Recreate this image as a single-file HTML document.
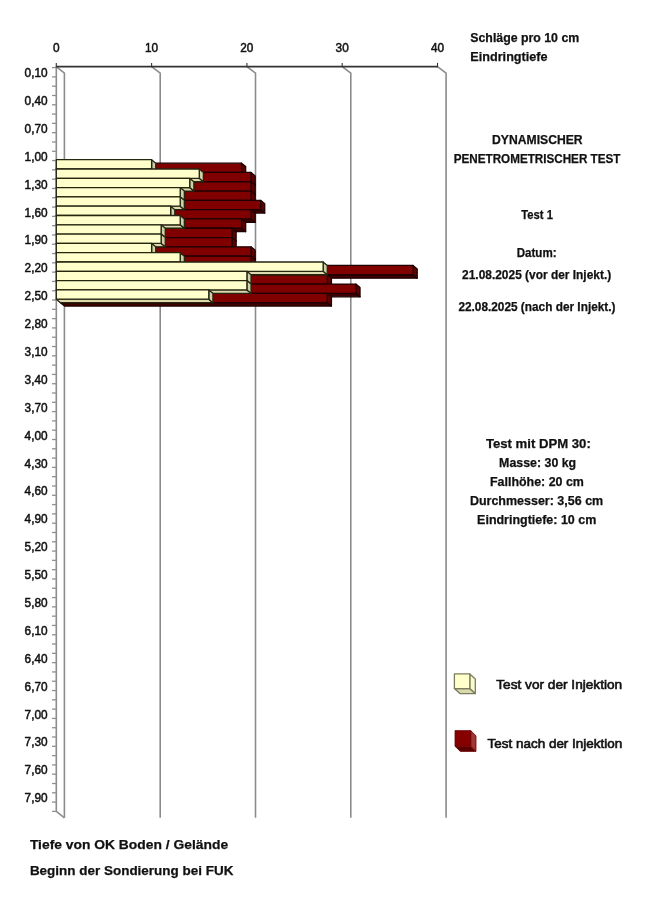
<!DOCTYPE html>
<html><head><meta charset="utf-8"><title>Dynamischer Penetrometrischer Test</title>
<style>
html,body{margin:0;padding:0;background:#fff;}
body{width:652px;height:902px;overflow:hidden;font-family:"Liberation Sans",sans-serif;}
svg{display:block;font-family:"Liberation Sans",sans-serif;filter:blur(0.4px);}
</style></head><body>
<svg width="652" height="902" viewBox="0 0 652 902">
<rect width="652" height="902" fill="#fff"/>
<polyline points="56.30,66.70 64.40,73.10 64.40,817.80" fill="none" stroke="#8c8c8c" stroke-width="1.6"/>
<polyline points="151.60,66.70 160.20,73.10 160.20,817.80" fill="none" stroke="#8c8c8c" stroke-width="1.6"/>
<polyline points="246.90,66.70 255.50,73.10 255.50,817.80" fill="none" stroke="#8c8c8c" stroke-width="1.6"/>
<polyline points="342.20,66.70 350.80,73.10 350.80,817.80" fill="none" stroke="#8c8c8c" stroke-width="1.6"/>
<polyline points="437.50,66.70 446.10,73.10 446.10,817.80" fill="none" stroke="#8c8c8c" stroke-width="1.6"/>
<polyline points="56.30,66.70 56.30,811.40 64.40,817.80" fill="none" stroke="#8c8c8c" stroke-width="1.6"/>
<line x1="52.00" y1="67.60" x2="56.30" y2="67.60" stroke="#909090" stroke-width="1.3"/>
<line x1="52.00" y1="76.90" x2="56.30" y2="76.90" stroke="#909090" stroke-width="1.3"/>
<line x1="52.00" y1="86.19" x2="56.30" y2="86.19" stroke="#909090" stroke-width="1.3"/>
<line x1="52.00" y1="95.49" x2="56.30" y2="95.49" stroke="#909090" stroke-width="1.3"/>
<line x1="52.00" y1="104.79" x2="56.30" y2="104.79" stroke="#909090" stroke-width="1.3"/>
<line x1="52.00" y1="114.09" x2="56.30" y2="114.09" stroke="#909090" stroke-width="1.3"/>
<line x1="52.00" y1="123.38" x2="56.30" y2="123.38" stroke="#909090" stroke-width="1.3"/>
<line x1="52.00" y1="132.68" x2="56.30" y2="132.68" stroke="#909090" stroke-width="1.3"/>
<line x1="52.00" y1="141.98" x2="56.30" y2="141.98" stroke="#909090" stroke-width="1.3"/>
<line x1="52.00" y1="151.28" x2="56.30" y2="151.28" stroke="#909090" stroke-width="1.3"/>
<line x1="52.00" y1="160.57" x2="56.30" y2="160.57" stroke="#909090" stroke-width="1.3"/>
<line x1="52.00" y1="169.87" x2="56.30" y2="169.87" stroke="#909090" stroke-width="1.3"/>
<line x1="52.00" y1="179.17" x2="56.30" y2="179.17" stroke="#909090" stroke-width="1.3"/>
<line x1="52.00" y1="188.47" x2="56.30" y2="188.47" stroke="#909090" stroke-width="1.3"/>
<line x1="52.00" y1="197.76" x2="56.30" y2="197.76" stroke="#909090" stroke-width="1.3"/>
<line x1="52.00" y1="207.06" x2="56.30" y2="207.06" stroke="#909090" stroke-width="1.3"/>
<line x1="52.00" y1="216.36" x2="56.30" y2="216.36" stroke="#909090" stroke-width="1.3"/>
<line x1="52.00" y1="225.66" x2="56.30" y2="225.66" stroke="#909090" stroke-width="1.3"/>
<line x1="52.00" y1="234.95" x2="56.30" y2="234.95" stroke="#909090" stroke-width="1.3"/>
<line x1="52.00" y1="244.25" x2="56.30" y2="244.25" stroke="#909090" stroke-width="1.3"/>
<line x1="52.00" y1="253.55" x2="56.30" y2="253.55" stroke="#909090" stroke-width="1.3"/>
<line x1="52.00" y1="262.85" x2="56.30" y2="262.85" stroke="#909090" stroke-width="1.3"/>
<line x1="52.00" y1="272.14" x2="56.30" y2="272.14" stroke="#909090" stroke-width="1.3"/>
<line x1="52.00" y1="281.44" x2="56.30" y2="281.44" stroke="#909090" stroke-width="1.3"/>
<line x1="52.00" y1="290.74" x2="56.30" y2="290.74" stroke="#909090" stroke-width="1.3"/>
<line x1="52.00" y1="300.04" x2="56.30" y2="300.04" stroke="#909090" stroke-width="1.3"/>
<line x1="52.00" y1="309.33" x2="56.30" y2="309.33" stroke="#909090" stroke-width="1.3"/>
<line x1="52.00" y1="318.63" x2="56.30" y2="318.63" stroke="#909090" stroke-width="1.3"/>
<line x1="52.00" y1="327.93" x2="56.30" y2="327.93" stroke="#909090" stroke-width="1.3"/>
<line x1="52.00" y1="337.23" x2="56.30" y2="337.23" stroke="#909090" stroke-width="1.3"/>
<line x1="52.00" y1="346.52" x2="56.30" y2="346.52" stroke="#909090" stroke-width="1.3"/>
<line x1="52.00" y1="355.82" x2="56.30" y2="355.82" stroke="#909090" stroke-width="1.3"/>
<line x1="52.00" y1="365.12" x2="56.30" y2="365.12" stroke="#909090" stroke-width="1.3"/>
<line x1="52.00" y1="374.42" x2="56.30" y2="374.42" stroke="#909090" stroke-width="1.3"/>
<line x1="52.00" y1="383.72" x2="56.30" y2="383.72" stroke="#909090" stroke-width="1.3"/>
<line x1="52.00" y1="393.01" x2="56.30" y2="393.01" stroke="#909090" stroke-width="1.3"/>
<line x1="52.00" y1="402.31" x2="56.30" y2="402.31" stroke="#909090" stroke-width="1.3"/>
<line x1="52.00" y1="411.61" x2="56.30" y2="411.61" stroke="#909090" stroke-width="1.3"/>
<line x1="52.00" y1="420.90" x2="56.30" y2="420.90" stroke="#909090" stroke-width="1.3"/>
<line x1="52.00" y1="430.20" x2="56.30" y2="430.20" stroke="#909090" stroke-width="1.3"/>
<line x1="52.00" y1="439.50" x2="56.30" y2="439.50" stroke="#909090" stroke-width="1.3"/>
<line x1="52.00" y1="448.80" x2="56.30" y2="448.80" stroke="#909090" stroke-width="1.3"/>
<line x1="52.00" y1="458.10" x2="56.30" y2="458.10" stroke="#909090" stroke-width="1.3"/>
<line x1="52.00" y1="467.39" x2="56.30" y2="467.39" stroke="#909090" stroke-width="1.3"/>
<line x1="52.00" y1="476.69" x2="56.30" y2="476.69" stroke="#909090" stroke-width="1.3"/>
<line x1="52.00" y1="485.99" x2="56.30" y2="485.99" stroke="#909090" stroke-width="1.3"/>
<line x1="52.00" y1="495.28" x2="56.30" y2="495.28" stroke="#909090" stroke-width="1.3"/>
<line x1="52.00" y1="504.58" x2="56.30" y2="504.58" stroke="#909090" stroke-width="1.3"/>
<line x1="52.00" y1="513.88" x2="56.30" y2="513.88" stroke="#909090" stroke-width="1.3"/>
<line x1="52.00" y1="523.18" x2="56.30" y2="523.18" stroke="#909090" stroke-width="1.3"/>
<line x1="52.00" y1="532.48" x2="56.30" y2="532.48" stroke="#909090" stroke-width="1.3"/>
<line x1="52.00" y1="541.77" x2="56.30" y2="541.77" stroke="#909090" stroke-width="1.3"/>
<line x1="52.00" y1="551.07" x2="56.30" y2="551.07" stroke="#909090" stroke-width="1.3"/>
<line x1="52.00" y1="560.37" x2="56.30" y2="560.37" stroke="#909090" stroke-width="1.3"/>
<line x1="52.00" y1="569.66" x2="56.30" y2="569.66" stroke="#909090" stroke-width="1.3"/>
<line x1="52.00" y1="578.96" x2="56.30" y2="578.96" stroke="#909090" stroke-width="1.3"/>
<line x1="52.00" y1="588.26" x2="56.30" y2="588.26" stroke="#909090" stroke-width="1.3"/>
<line x1="52.00" y1="597.56" x2="56.30" y2="597.56" stroke="#909090" stroke-width="1.3"/>
<line x1="52.00" y1="606.86" x2="56.30" y2="606.86" stroke="#909090" stroke-width="1.3"/>
<line x1="52.00" y1="616.15" x2="56.30" y2="616.15" stroke="#909090" stroke-width="1.3"/>
<line x1="52.00" y1="625.45" x2="56.30" y2="625.45" stroke="#909090" stroke-width="1.3"/>
<line x1="52.00" y1="634.75" x2="56.30" y2="634.75" stroke="#909090" stroke-width="1.3"/>
<line x1="52.00" y1="644.04" x2="56.30" y2="644.04" stroke="#909090" stroke-width="1.3"/>
<line x1="52.00" y1="653.34" x2="56.30" y2="653.34" stroke="#909090" stroke-width="1.3"/>
<line x1="52.00" y1="662.64" x2="56.30" y2="662.64" stroke="#909090" stroke-width="1.3"/>
<line x1="52.00" y1="671.94" x2="56.30" y2="671.94" stroke="#909090" stroke-width="1.3"/>
<line x1="52.00" y1="681.24" x2="56.30" y2="681.24" stroke="#909090" stroke-width="1.3"/>
<line x1="52.00" y1="690.53" x2="56.30" y2="690.53" stroke="#909090" stroke-width="1.3"/>
<line x1="52.00" y1="699.83" x2="56.30" y2="699.83" stroke="#909090" stroke-width="1.3"/>
<line x1="52.00" y1="709.13" x2="56.30" y2="709.13" stroke="#909090" stroke-width="1.3"/>
<line x1="52.00" y1="718.42" x2="56.30" y2="718.42" stroke="#909090" stroke-width="1.3"/>
<line x1="52.00" y1="727.72" x2="56.30" y2="727.72" stroke="#909090" stroke-width="1.3"/>
<line x1="52.00" y1="737.02" x2="56.30" y2="737.02" stroke="#909090" stroke-width="1.3"/>
<line x1="52.00" y1="746.32" x2="56.30" y2="746.32" stroke="#909090" stroke-width="1.3"/>
<line x1="52.00" y1="755.62" x2="56.30" y2="755.62" stroke="#909090" stroke-width="1.3"/>
<line x1="52.00" y1="764.91" x2="56.30" y2="764.91" stroke="#909090" stroke-width="1.3"/>
<line x1="52.00" y1="774.21" x2="56.30" y2="774.21" stroke="#909090" stroke-width="1.3"/>
<line x1="52.00" y1="783.51" x2="56.30" y2="783.51" stroke="#909090" stroke-width="1.3"/>
<line x1="52.00" y1="792.80" x2="56.30" y2="792.80" stroke="#909090" stroke-width="1.3"/>
<line x1="52.00" y1="802.10" x2="56.30" y2="802.10" stroke="#909090" stroke-width="1.3"/>
<line x1="52.00" y1="811.40" x2="56.30" y2="811.40" stroke="#909090" stroke-width="1.3"/>
<polygon points="60.45,172.45 241.52,172.45 245.67,175.90 64.60,175.90" fill="#3e0000" stroke="#1e0000" stroke-width="1.3" stroke-linejoin="round"/>
<polygon points="241.52,163.15 245.67,166.60 245.67,175.90 241.52,172.45" fill="#5e0000" stroke="#1e0000" stroke-width="1.3" stroke-linejoin="round"/>
<polygon points="60.45,163.15 241.52,163.15 241.52,172.45 60.45,172.45" fill="#800000" stroke="#1e0000" stroke-width="1.3" stroke-linejoin="round"/>
<polygon points="60.45,181.75 251.05,181.75 255.20,185.20 64.60,185.20" fill="#3e0000" stroke="#1e0000" stroke-width="1.3" stroke-linejoin="round"/>
<polygon points="251.05,172.45 255.20,175.90 255.20,185.20 251.05,181.75" fill="#5e0000" stroke="#1e0000" stroke-width="1.3" stroke-linejoin="round"/>
<polygon points="60.45,172.45 251.05,172.45 251.05,181.75 60.45,181.75" fill="#800000" stroke="#1e0000" stroke-width="1.3" stroke-linejoin="round"/>
<polygon points="60.45,191.05 251.05,191.05 255.20,194.50 64.60,194.50" fill="#3e0000" stroke="#1e0000" stroke-width="1.3" stroke-linejoin="round"/>
<polygon points="251.05,181.75 255.20,185.20 255.20,194.50 251.05,191.05" fill="#5e0000" stroke="#1e0000" stroke-width="1.3" stroke-linejoin="round"/>
<polygon points="60.45,181.75 251.05,181.75 251.05,191.05 60.45,191.05" fill="#800000" stroke="#1e0000" stroke-width="1.3" stroke-linejoin="round"/>
<polygon points="60.45,200.35 251.05,200.35 255.20,203.80 64.60,203.80" fill="#3e0000" stroke="#1e0000" stroke-width="1.3" stroke-linejoin="round"/>
<polygon points="251.05,191.05 255.20,194.50 255.20,203.80 251.05,200.35" fill="#5e0000" stroke="#1e0000" stroke-width="1.3" stroke-linejoin="round"/>
<polygon points="60.45,191.05 251.05,191.05 251.05,200.35 60.45,200.35" fill="#800000" stroke="#1e0000" stroke-width="1.3" stroke-linejoin="round"/>
<polygon points="60.45,209.65 260.58,209.65 264.73,213.10 64.60,213.10" fill="#3e0000" stroke="#1e0000" stroke-width="1.3" stroke-linejoin="round"/>
<polygon points="260.58,200.35 264.73,203.80 264.73,213.10 260.58,209.65" fill="#5e0000" stroke="#1e0000" stroke-width="1.3" stroke-linejoin="round"/>
<polygon points="60.45,200.35 260.58,200.35 260.58,209.65 60.45,209.65" fill="#800000" stroke="#1e0000" stroke-width="1.3" stroke-linejoin="round"/>
<polygon points="60.45,218.95 251.05,218.95 255.20,222.40 64.60,222.40" fill="#3e0000" stroke="#1e0000" stroke-width="1.3" stroke-linejoin="round"/>
<polygon points="251.05,209.65 255.20,213.10 255.20,222.40 251.05,218.95" fill="#5e0000" stroke="#1e0000" stroke-width="1.3" stroke-linejoin="round"/>
<polygon points="60.45,209.65 251.05,209.65 251.05,218.95 60.45,218.95" fill="#800000" stroke="#1e0000" stroke-width="1.3" stroke-linejoin="round"/>
<polygon points="60.45,228.25 241.52,228.25 245.67,231.70 64.60,231.70" fill="#3e0000" stroke="#1e0000" stroke-width="1.3" stroke-linejoin="round"/>
<polygon points="241.52,218.95 245.67,222.40 245.67,231.70 241.52,228.25" fill="#5e0000" stroke="#1e0000" stroke-width="1.3" stroke-linejoin="round"/>
<polygon points="60.45,218.95 241.52,218.95 241.52,228.25 60.45,228.25" fill="#800000" stroke="#1e0000" stroke-width="1.3" stroke-linejoin="round"/>
<polygon points="60.45,237.55 231.99,237.55 236.14,241.00 64.60,241.00" fill="#3e0000" stroke="#1e0000" stroke-width="1.3" stroke-linejoin="round"/>
<polygon points="231.99,228.25 236.14,231.70 236.14,241.00 231.99,237.55" fill="#5e0000" stroke="#1e0000" stroke-width="1.3" stroke-linejoin="round"/>
<polygon points="60.45,228.25 231.99,228.25 231.99,237.55 60.45,237.55" fill="#800000" stroke="#1e0000" stroke-width="1.3" stroke-linejoin="round"/>
<polygon points="60.45,246.85 231.99,246.85 236.14,250.30 64.60,250.30" fill="#3e0000" stroke="#1e0000" stroke-width="1.3" stroke-linejoin="round"/>
<polygon points="231.99,237.55 236.14,241.00 236.14,250.30 231.99,246.85" fill="#5e0000" stroke="#1e0000" stroke-width="1.3" stroke-linejoin="round"/>
<polygon points="60.45,237.55 231.99,237.55 231.99,246.85 60.45,246.85" fill="#800000" stroke="#1e0000" stroke-width="1.3" stroke-linejoin="round"/>
<polygon points="60.45,256.15 251.05,256.15 255.20,259.60 64.60,259.60" fill="#3e0000" stroke="#1e0000" stroke-width="1.3" stroke-linejoin="round"/>
<polygon points="251.05,246.85 255.20,250.30 255.20,259.60 251.05,256.15" fill="#5e0000" stroke="#1e0000" stroke-width="1.3" stroke-linejoin="round"/>
<polygon points="60.45,246.85 251.05,246.85 251.05,256.15 60.45,256.15" fill="#800000" stroke="#1e0000" stroke-width="1.3" stroke-linejoin="round"/>
<polygon points="60.45,265.45 251.05,265.45 255.20,268.90 64.60,268.90" fill="#3e0000" stroke="#1e0000" stroke-width="1.3" stroke-linejoin="round"/>
<polygon points="251.05,256.15 255.20,259.60 255.20,268.90 251.05,265.45" fill="#5e0000" stroke="#1e0000" stroke-width="1.3" stroke-linejoin="round"/>
<polygon points="60.45,256.15 251.05,256.15 251.05,265.45 60.45,265.45" fill="#800000" stroke="#1e0000" stroke-width="1.3" stroke-linejoin="round"/>
<polygon points="60.45,274.75 413.06,274.75 417.21,278.20 64.60,278.20" fill="#3e0000" stroke="#1e0000" stroke-width="1.3" stroke-linejoin="round"/>
<polygon points="413.06,265.45 417.21,268.90 417.21,278.20 413.06,274.75" fill="#5e0000" stroke="#1e0000" stroke-width="1.3" stroke-linejoin="round"/>
<polygon points="60.45,265.45 413.06,265.45 413.06,274.75 60.45,274.75" fill="#800000" stroke="#1e0000" stroke-width="1.3" stroke-linejoin="round"/>
<polygon points="60.45,284.05 327.29,284.05 331.44,287.50 64.60,287.50" fill="#3e0000" stroke="#1e0000" stroke-width="1.3" stroke-linejoin="round"/>
<polygon points="327.29,274.75 331.44,278.20 331.44,287.50 327.29,284.05" fill="#5e0000" stroke="#1e0000" stroke-width="1.3" stroke-linejoin="round"/>
<polygon points="60.45,274.75 327.29,274.75 327.29,284.05 60.45,284.05" fill="#800000" stroke="#1e0000" stroke-width="1.3" stroke-linejoin="round"/>
<polygon points="60.45,293.35 355.88,293.35 360.03,296.80 64.60,296.80" fill="#3e0000" stroke="#1e0000" stroke-width="1.3" stroke-linejoin="round"/>
<polygon points="355.88,284.05 360.03,287.50 360.03,296.80 355.88,293.35" fill="#5e0000" stroke="#1e0000" stroke-width="1.3" stroke-linejoin="round"/>
<polygon points="60.45,284.05 355.88,284.05 355.88,293.35 60.45,293.35" fill="#800000" stroke="#1e0000" stroke-width="1.3" stroke-linejoin="round"/>
<polygon points="60.45,302.65 327.29,302.65 331.44,306.10 64.60,306.10" fill="#3e0000" stroke="#1e0000" stroke-width="1.3" stroke-linejoin="round"/>
<polygon points="327.29,293.35 331.44,296.80 331.44,306.10 327.29,302.65" fill="#5e0000" stroke="#1e0000" stroke-width="1.3" stroke-linejoin="round"/>
<polygon points="60.45,293.35 327.29,293.35 327.29,302.65 60.45,302.65" fill="#800000" stroke="#1e0000" stroke-width="1.3" stroke-linejoin="round"/>
<polygon points="56.30,169.00 151.60,169.00 155.75,172.45 60.45,172.45" fill="#ded8ae" stroke="#252510" stroke-width="1.3" stroke-linejoin="round"/>
<polygon points="151.60,159.70 155.75,163.15 155.75,172.45 151.60,169.00" fill="#cdd0a9" stroke="#252510" stroke-width="1.3" stroke-linejoin="round"/>
<polygon points="56.30,159.70 151.60,159.70 151.60,169.00 56.30,169.00" fill="#ffffcc" stroke="#252510" stroke-width="1.3" stroke-linejoin="round"/>
<polygon points="56.30,178.30 199.25,178.30 203.40,181.75 60.45,181.75" fill="#ded8ae" stroke="#252510" stroke-width="1.3" stroke-linejoin="round"/>
<polygon points="199.25,169.00 203.40,172.45 203.40,181.75 199.25,178.30" fill="#cdd0a9" stroke="#252510" stroke-width="1.3" stroke-linejoin="round"/>
<polygon points="56.30,169.00 199.25,169.00 199.25,178.30 56.30,178.30" fill="#ffffcc" stroke="#252510" stroke-width="1.3" stroke-linejoin="round"/>
<polygon points="56.30,187.60 189.72,187.60 193.87,191.05 60.45,191.05" fill="#ded8ae" stroke="#252510" stroke-width="1.3" stroke-linejoin="round"/>
<polygon points="189.72,178.30 193.87,181.75 193.87,191.05 189.72,187.60" fill="#cdd0a9" stroke="#252510" stroke-width="1.3" stroke-linejoin="round"/>
<polygon points="56.30,178.30 189.72,178.30 189.72,187.60 56.30,187.60" fill="#ffffcc" stroke="#252510" stroke-width="1.3" stroke-linejoin="round"/>
<polygon points="56.30,196.90 180.19,196.90 184.34,200.35 60.45,200.35" fill="#ded8ae" stroke="#252510" stroke-width="1.3" stroke-linejoin="round"/>
<polygon points="180.19,187.60 184.34,191.05 184.34,200.35 180.19,196.90" fill="#cdd0a9" stroke="#252510" stroke-width="1.3" stroke-linejoin="round"/>
<polygon points="56.30,187.60 180.19,187.60 180.19,196.90 56.30,196.90" fill="#ffffcc" stroke="#252510" stroke-width="1.3" stroke-linejoin="round"/>
<polygon points="56.30,206.20 180.19,206.20 184.34,209.65 60.45,209.65" fill="#ded8ae" stroke="#252510" stroke-width="1.3" stroke-linejoin="round"/>
<polygon points="180.19,196.90 184.34,200.35 184.34,209.65 180.19,206.20" fill="#cdd0a9" stroke="#252510" stroke-width="1.3" stroke-linejoin="round"/>
<polygon points="56.30,196.90 180.19,196.90 180.19,206.20 56.30,206.20" fill="#ffffcc" stroke="#252510" stroke-width="1.3" stroke-linejoin="round"/>
<polygon points="56.30,215.50 170.66,215.50 174.81,218.95 60.45,218.95" fill="#ded8ae" stroke="#252510" stroke-width="1.3" stroke-linejoin="round"/>
<polygon points="170.66,206.20 174.81,209.65 174.81,218.95 170.66,215.50" fill="#cdd0a9" stroke="#252510" stroke-width="1.3" stroke-linejoin="round"/>
<polygon points="56.30,206.20 170.66,206.20 170.66,215.50 56.30,215.50" fill="#ffffcc" stroke="#252510" stroke-width="1.3" stroke-linejoin="round"/>
<polygon points="56.30,224.80 180.19,224.80 184.34,228.25 60.45,228.25" fill="#ded8ae" stroke="#252510" stroke-width="1.3" stroke-linejoin="round"/>
<polygon points="180.19,215.50 184.34,218.95 184.34,228.25 180.19,224.80" fill="#cdd0a9" stroke="#252510" stroke-width="1.3" stroke-linejoin="round"/>
<polygon points="56.30,215.50 180.19,215.50 180.19,224.80 56.30,224.80" fill="#ffffcc" stroke="#252510" stroke-width="1.3" stroke-linejoin="round"/>
<polygon points="56.30,234.10 161.13,234.10 165.28,237.55 60.45,237.55" fill="#ded8ae" stroke="#252510" stroke-width="1.3" stroke-linejoin="round"/>
<polygon points="161.13,224.80 165.28,228.25 165.28,237.55 161.13,234.10" fill="#cdd0a9" stroke="#252510" stroke-width="1.3" stroke-linejoin="round"/>
<polygon points="56.30,224.80 161.13,224.80 161.13,234.10 56.30,234.10" fill="#ffffcc" stroke="#252510" stroke-width="1.3" stroke-linejoin="round"/>
<polygon points="56.30,243.40 161.13,243.40 165.28,246.85 60.45,246.85" fill="#ded8ae" stroke="#252510" stroke-width="1.3" stroke-linejoin="round"/>
<polygon points="161.13,234.10 165.28,237.55 165.28,246.85 161.13,243.40" fill="#cdd0a9" stroke="#252510" stroke-width="1.3" stroke-linejoin="round"/>
<polygon points="56.30,234.10 161.13,234.10 161.13,243.40 56.30,243.40" fill="#ffffcc" stroke="#252510" stroke-width="1.3" stroke-linejoin="round"/>
<polygon points="56.30,252.70 151.60,252.70 155.75,256.15 60.45,256.15" fill="#ded8ae" stroke="#252510" stroke-width="1.3" stroke-linejoin="round"/>
<polygon points="151.60,243.40 155.75,246.85 155.75,256.15 151.60,252.70" fill="#cdd0a9" stroke="#252510" stroke-width="1.3" stroke-linejoin="round"/>
<polygon points="56.30,243.40 151.60,243.40 151.60,252.70 56.30,252.70" fill="#ffffcc" stroke="#252510" stroke-width="1.3" stroke-linejoin="round"/>
<polygon points="56.30,262.00 180.19,262.00 184.34,265.45 60.45,265.45" fill="#ded8ae" stroke="#252510" stroke-width="1.3" stroke-linejoin="round"/>
<polygon points="180.19,252.70 184.34,256.15 184.34,265.45 180.19,262.00" fill="#cdd0a9" stroke="#252510" stroke-width="1.3" stroke-linejoin="round"/>
<polygon points="56.30,252.70 180.19,252.70 180.19,262.00 56.30,262.00" fill="#ffffcc" stroke="#252510" stroke-width="1.3" stroke-linejoin="round"/>
<polygon points="56.30,271.30 323.14,271.30 327.29,274.75 60.45,274.75" fill="#ded8ae" stroke="#252510" stroke-width="1.3" stroke-linejoin="round"/>
<polygon points="323.14,262.00 327.29,265.45 327.29,274.75 323.14,271.30" fill="#cdd0a9" stroke="#252510" stroke-width="1.3" stroke-linejoin="round"/>
<polygon points="56.30,262.00 323.14,262.00 323.14,271.30 56.30,271.30" fill="#ffffcc" stroke="#252510" stroke-width="1.3" stroke-linejoin="round"/>
<polygon points="56.30,280.60 246.90,280.60 251.05,284.05 60.45,284.05" fill="#ded8ae" stroke="#252510" stroke-width="1.3" stroke-linejoin="round"/>
<polygon points="246.90,271.30 251.05,274.75 251.05,284.05 246.90,280.60" fill="#cdd0a9" stroke="#252510" stroke-width="1.3" stroke-linejoin="round"/>
<polygon points="56.30,271.30 246.90,271.30 246.90,280.60 56.30,280.60" fill="#ffffcc" stroke="#252510" stroke-width="1.3" stroke-linejoin="round"/>
<polygon points="56.30,289.90 246.90,289.90 251.05,293.35 60.45,293.35" fill="#ded8ae" stroke="#252510" stroke-width="1.3" stroke-linejoin="round"/>
<polygon points="246.90,280.60 251.05,284.05 251.05,293.35 246.90,289.90" fill="#cdd0a9" stroke="#252510" stroke-width="1.3" stroke-linejoin="round"/>
<polygon points="56.30,280.60 246.90,280.60 246.90,289.90 56.30,289.90" fill="#ffffcc" stroke="#252510" stroke-width="1.3" stroke-linejoin="round"/>
<polygon points="56.30,299.20 208.78,299.20 212.93,302.65 60.45,302.65" fill="#ded8ae" stroke="#252510" stroke-width="1.3" stroke-linejoin="round"/>
<polygon points="208.78,289.90 212.93,293.35 212.93,302.65 208.78,299.20" fill="#cdd0a9" stroke="#252510" stroke-width="1.3" stroke-linejoin="round"/>
<polygon points="56.30,289.90 208.78,289.90 208.78,299.20 56.30,299.20" fill="#ffffcc" stroke="#252510" stroke-width="1.3" stroke-linejoin="round"/>
<line x1="55.80" y1="66.70" x2="438.00" y2="66.70" stroke="#333" stroke-width="1.7"/>
<line x1="56.30" y1="62.90" x2="56.30" y2="66.70" stroke="#333" stroke-width="1.1"/>
<line x1="151.60" y1="62.90" x2="151.60" y2="66.70" stroke="#333" stroke-width="1.1"/>
<line x1="246.90" y1="62.90" x2="246.90" y2="66.70" stroke="#333" stroke-width="1.1"/>
<line x1="342.20" y1="62.90" x2="342.20" y2="66.70" stroke="#333" stroke-width="1.1"/>
<line x1="437.50" y1="62.90" x2="437.50" y2="66.70" stroke="#333" stroke-width="1.1"/>
<text x="53.0" y="52.2" font-size="12.3" font-weight="normal" text-anchor="start" fill="#111" textLength="6.6" lengthAdjust="spacingAndGlyphs" stroke="#111" stroke-width="0.5">0</text>
<text x="145.0" y="52.2" font-size="12.3" font-weight="normal" text-anchor="start" fill="#111" textLength="13.1" lengthAdjust="spacingAndGlyphs" stroke="#111" stroke-width="0.5">10</text>
<text x="240.3" y="52.2" font-size="12.3" font-weight="normal" text-anchor="start" fill="#111" textLength="13.1" lengthAdjust="spacingAndGlyphs" stroke="#111" stroke-width="0.5">20</text>
<text x="335.6" y="52.2" font-size="12.3" font-weight="normal" text-anchor="start" fill="#111" textLength="13.1" lengthAdjust="spacingAndGlyphs" stroke="#111" stroke-width="0.5">30</text>
<text x="430.9" y="52.2" font-size="12.3" font-weight="normal" text-anchor="start" fill="#111" textLength="13.1" lengthAdjust="spacingAndGlyphs" stroke="#111" stroke-width="0.5">40</text>
<text x="24.6" y="77.0" font-size="12.3" font-weight="normal" text-anchor="start" fill="#111" textLength="23.0" lengthAdjust="spacingAndGlyphs" stroke="#111" stroke-width="0.5">0,10</text>
<text x="24.6" y="104.9" font-size="12.3" font-weight="normal" text-anchor="start" fill="#111" textLength="23.0" lengthAdjust="spacingAndGlyphs" stroke="#111" stroke-width="0.5">0,40</text>
<text x="24.6" y="132.8" font-size="12.3" font-weight="normal" text-anchor="start" fill="#111" textLength="23.0" lengthAdjust="spacingAndGlyphs" stroke="#111" stroke-width="0.5">0,70</text>
<text x="24.6" y="160.7" font-size="12.3" font-weight="normal" text-anchor="start" fill="#111" textLength="23.0" lengthAdjust="spacingAndGlyphs" stroke="#111" stroke-width="0.5">1,00</text>
<text x="24.6" y="188.6" font-size="12.3" font-weight="normal" text-anchor="start" fill="#111" textLength="23.0" lengthAdjust="spacingAndGlyphs" stroke="#111" stroke-width="0.5">1,30</text>
<text x="24.6" y="216.5" font-size="12.3" font-weight="normal" text-anchor="start" fill="#111" textLength="23.0" lengthAdjust="spacingAndGlyphs" stroke="#111" stroke-width="0.5">1,60</text>
<text x="24.6" y="244.4" font-size="12.3" font-weight="normal" text-anchor="start" fill="#111" textLength="23.0" lengthAdjust="spacingAndGlyphs" stroke="#111" stroke-width="0.5">1,90</text>
<text x="24.6" y="272.2" font-size="12.3" font-weight="normal" text-anchor="start" fill="#111" textLength="23.0" lengthAdjust="spacingAndGlyphs" stroke="#111" stroke-width="0.5">2,20</text>
<text x="24.6" y="300.1" font-size="12.3" font-weight="normal" text-anchor="start" fill="#111" textLength="23.0" lengthAdjust="spacingAndGlyphs" stroke="#111" stroke-width="0.5">2,50</text>
<text x="24.6" y="328.0" font-size="12.3" font-weight="normal" text-anchor="start" fill="#111" textLength="23.0" lengthAdjust="spacingAndGlyphs" stroke="#111" stroke-width="0.5">2,80</text>
<text x="24.6" y="355.9" font-size="12.3" font-weight="normal" text-anchor="start" fill="#111" textLength="23.0" lengthAdjust="spacingAndGlyphs" stroke="#111" stroke-width="0.5">3,10</text>
<text x="24.6" y="383.8" font-size="12.3" font-weight="normal" text-anchor="start" fill="#111" textLength="23.0" lengthAdjust="spacingAndGlyphs" stroke="#111" stroke-width="0.5">3,40</text>
<text x="24.6" y="411.7" font-size="12.3" font-weight="normal" text-anchor="start" fill="#111" textLength="23.0" lengthAdjust="spacingAndGlyphs" stroke="#111" stroke-width="0.5">3,70</text>
<text x="24.6" y="439.6" font-size="12.3" font-weight="normal" text-anchor="start" fill="#111" textLength="23.0" lengthAdjust="spacingAndGlyphs" stroke="#111" stroke-width="0.5">4,00</text>
<text x="24.6" y="467.5" font-size="12.3" font-weight="normal" text-anchor="start" fill="#111" textLength="23.0" lengthAdjust="spacingAndGlyphs" stroke="#111" stroke-width="0.5">4,30</text>
<text x="24.6" y="495.4" font-size="12.3" font-weight="normal" text-anchor="start" fill="#111" textLength="23.0" lengthAdjust="spacingAndGlyphs" stroke="#111" stroke-width="0.5">4,60</text>
<text x="24.6" y="523.3" font-size="12.3" font-weight="normal" text-anchor="start" fill="#111" textLength="23.0" lengthAdjust="spacingAndGlyphs" stroke="#111" stroke-width="0.5">4,90</text>
<text x="24.6" y="551.2" font-size="12.3" font-weight="normal" text-anchor="start" fill="#111" textLength="23.0" lengthAdjust="spacingAndGlyphs" stroke="#111" stroke-width="0.5">5,20</text>
<text x="24.6" y="579.1" font-size="12.3" font-weight="normal" text-anchor="start" fill="#111" textLength="23.0" lengthAdjust="spacingAndGlyphs" stroke="#111" stroke-width="0.5">5,50</text>
<text x="24.6" y="607.0" font-size="12.3" font-weight="normal" text-anchor="start" fill="#111" textLength="23.0" lengthAdjust="spacingAndGlyphs" stroke="#111" stroke-width="0.5">5,80</text>
<text x="24.6" y="634.8" font-size="12.3" font-weight="normal" text-anchor="start" fill="#111" textLength="23.0" lengthAdjust="spacingAndGlyphs" stroke="#111" stroke-width="0.5">6,10</text>
<text x="24.6" y="662.7" font-size="12.3" font-weight="normal" text-anchor="start" fill="#111" textLength="23.0" lengthAdjust="spacingAndGlyphs" stroke="#111" stroke-width="0.5">6,40</text>
<text x="24.6" y="690.6" font-size="12.3" font-weight="normal" text-anchor="start" fill="#111" textLength="23.0" lengthAdjust="spacingAndGlyphs" stroke="#111" stroke-width="0.5">6,70</text>
<text x="24.6" y="718.5" font-size="12.3" font-weight="normal" text-anchor="start" fill="#111" textLength="23.0" lengthAdjust="spacingAndGlyphs" stroke="#111" stroke-width="0.5">7,00</text>
<text x="24.6" y="746.4" font-size="12.3" font-weight="normal" text-anchor="start" fill="#111" textLength="23.0" lengthAdjust="spacingAndGlyphs" stroke="#111" stroke-width="0.5">7,30</text>
<text x="24.6" y="774.3" font-size="12.3" font-weight="normal" text-anchor="start" fill="#111" textLength="23.0" lengthAdjust="spacingAndGlyphs" stroke="#111" stroke-width="0.5">7,60</text>
<text x="24.6" y="802.2" font-size="12.3" font-weight="normal" text-anchor="start" fill="#111" textLength="23.0" lengthAdjust="spacingAndGlyphs" stroke="#111" stroke-width="0.5">7,90</text>
<text x="470.3" y="42.2" font-size="12.4" font-weight="bold" text-anchor="start" fill="#111" textLength="108.9" lengthAdjust="spacingAndGlyphs" stroke="#111" stroke-width="0.25">Schläge pro 10 cm</text>
<text x="470.3" y="61.2" font-size="12.4" font-weight="bold" text-anchor="start" fill="#111" textLength="77.3" lengthAdjust="spacingAndGlyphs" stroke="#111" stroke-width="0.25">Eindringtiefe</text>
<text x="492.1" y="144.0" font-size="12.0" font-weight="bold" text-anchor="start" fill="#111" textLength="90.5" lengthAdjust="spacingAndGlyphs" stroke="#111" stroke-width="0.25">DYNAMISCHER</text>
<text x="453.8" y="162.7" font-size="12.0" font-weight="bold" text-anchor="start" fill="#111" textLength="166.6" lengthAdjust="spacingAndGlyphs" stroke="#111" stroke-width="0.25">PENETROMETRISCHER TEST</text>
<text x="521.3" y="219.0" font-size="12.0" font-weight="bold" text-anchor="start" fill="#111" textLength="31.6" lengthAdjust="spacingAndGlyphs" stroke="#111" stroke-width="0.25">Test 1</text>
<text x="516.7" y="257.4" font-size="12.0" font-weight="bold" text-anchor="start" fill="#111" textLength="39.9" lengthAdjust="spacingAndGlyphs" stroke="#111" stroke-width="0.25">Datum:</text>
<text x="462.1" y="278.8" font-size="12.0" font-weight="bold" text-anchor="start" fill="#111" textLength="149.1" lengthAdjust="spacingAndGlyphs" stroke="#111" stroke-width="0.25">21.08.2025 (vor der Injekt.)</text>
<text x="458.4" y="311.0" font-size="12.0" font-weight="bold" text-anchor="start" fill="#111" textLength="157.1" lengthAdjust="spacingAndGlyphs" stroke="#111" stroke-width="0.25">22.08.2025 (nach der Injekt.)</text>
<text x="485.9" y="447.8" font-size="12.5" font-weight="bold" text-anchor="start" fill="#111" textLength="104.9" lengthAdjust="spacingAndGlyphs" stroke="#111" stroke-width="0.25">Test mit DPM 30:</text>
<text x="499.1" y="467.2" font-size="12.5" font-weight="bold" text-anchor="start" fill="#111" textLength="77.1" lengthAdjust="spacingAndGlyphs" stroke="#111" stroke-width="0.25">Masse: 30 kg</text>
<text x="490.0" y="486.3" font-size="12.5" font-weight="bold" text-anchor="start" fill="#111" textLength="93.9" lengthAdjust="spacingAndGlyphs" stroke="#111" stroke-width="0.25">Fallhöhe: 20 cm</text>
<text x="469.9" y="505.1" font-size="12.5" font-weight="bold" text-anchor="start" fill="#111" textLength="133.3" lengthAdjust="spacingAndGlyphs" stroke="#111" stroke-width="0.25">Durchmesser: 3,56 cm</text>
<text x="477.1" y="524.4" font-size="12.5" font-weight="bold" text-anchor="start" fill="#111" textLength="119.2" lengthAdjust="spacingAndGlyphs" stroke="#111" stroke-width="0.25">Eindringtiefe: 10 cm</text>
<text x="29.9" y="849.0" font-size="13.3" font-weight="bold" text-anchor="start" fill="#111" textLength="198.2" lengthAdjust="spacingAndGlyphs" stroke="#111" stroke-width="0.25">Tiefe von OK Boden / Gelände</text>
<text x="29.9" y="874.7" font-size="13.3" font-weight="bold" text-anchor="start" fill="#111" textLength="203.5" lengthAdjust="spacingAndGlyphs" stroke="#111" stroke-width="0.25">Beginn der Sondierung bei FUK</text>
<text x="496.3" y="689.1" font-size="13.0" font-weight="normal" text-anchor="start" fill="#111" textLength="125.9" lengthAdjust="spacingAndGlyphs" stroke="#111" stroke-width="0.6">Test vor der Injektion</text>
<text x="487.6" y="748.0" font-size="13.0" font-weight="normal" text-anchor="start" fill="#111" textLength="134.6" lengthAdjust="spacingAndGlyphs" stroke="#111" stroke-width="0.6">Test nach der Injektion</text>
<polygon points="454.40,688.60 469.80,688.60 475.30,693.60 459.90,693.60" fill="#dadab0" stroke="#7c7c5c" stroke-width="1.3" stroke-linejoin="round"/>
<polygon points="469.80,673.90 475.30,678.90 475.30,693.60 469.80,688.60" fill="#fafad2" stroke="#7c7c5c" stroke-width="1.3" stroke-linejoin="round"/>
<polygon points="454.40,673.90 469.80,673.90 469.80,688.60 454.40,688.60" fill="#ffffcc" stroke="#7c7c5c" stroke-width="1.3" stroke-linejoin="round"/>
<polygon points="455.00,746.20 470.70,746.20 476.00,751.40 460.30,751.40" fill="#5c0000" stroke="#6c0000" stroke-width="0.8" stroke-linejoin="round"/>
<polygon points="470.70,730.60 476.00,735.80 476.00,751.40 470.70,746.20" fill="#a03838" stroke="#6c0000" stroke-width="0.8" stroke-linejoin="round"/>
<polygon points="455.00,730.60 470.70,730.60 470.70,746.20 455.00,746.20" fill="#870000" stroke="#6c0000" stroke-width="0.8" stroke-linejoin="round"/>
</svg>
</body></html>
